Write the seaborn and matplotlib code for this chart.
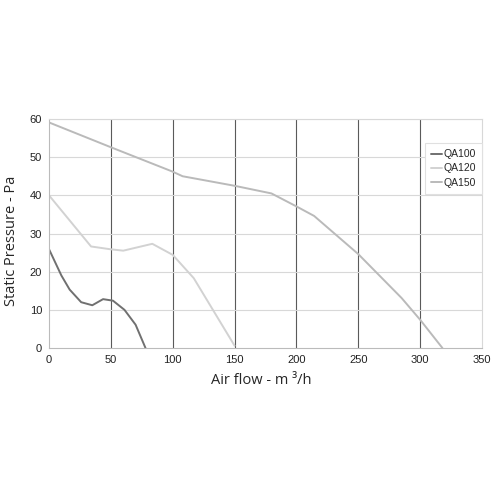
import seaborn as sns
import matplotlib.pyplot as plt
import pandas as pd

# fan curves
qa100_flow = [0, 10, 16.7, 26, 35, 43.7, 51.7, 61, 70, 78]
qa100_pres = [25.9, 19, 15.3, 12, 11.2, 12.8, 12.4, 10, 6.1, 0]

qa120_flow = [0, 34, 49, 60, 83.5, 100, 117, 150]
qa120_pres = [40, 26.6, 25.9, 25.5, 27.3, 24.4, 18.3, 0.6]

qa150_flow = [0, 50, 100, 108, 150, 179.8, 200, 214.3, 250, 285, 300, 318]
qa150_pres = [59.1, 52.6, 46.2, 45, 42.5, 40.5, 37.1, 34.6, 24.6, 13.1, 7.4, 0]

models = ['QA100', 'QA120', 'QA150']
colors = ['#707070', '#d2d2d2', '#bababa']

df = pd.concat([
    pd.DataFrame({'flow': qa100_flow, 'pressure': qa100_pres, 'model': 'QA100'}),
    pd.DataFrame({'flow': qa120_flow, 'pressure': qa120_pres, 'model': 'QA120'}),
    pd.DataFrame({'flow': qa150_flow, 'pressure': qa150_pres, 'model': 'QA150'}),
])

sns.set_style('white')
plt.rcParams['font.family'] = ['Liberation Sans', 'DejaVu Sans']

fig = plt.figure(figsize=(5, 5), dpi=100)
ax = fig.add_axes([0.098, 0.304, 0.866, 0.458])

# grid: dark verticals, light horizontals
for v in range(50, 350, 50):
    ax.axvline(v, color='#5a5a5a', lw=0.8, zorder=0)
for h in range(10, 70, 10):
    ax.axhline(h, color='#d8d8d8', lw=0.8, zorder=0)

sns.lineplot(data=df, x='flow', y='pressure', hue='model', hue_order=models,
             palette=colors, sort=False, lw=1.4, ax=ax)

ax.set_xlim(0, 350)
ax.set_ylim(0, 60)
ax.set_xticks(range(0, 400, 50))
ax.set_yticks(range(0, 70, 10))
ax.tick_params(labelsize=8, length=0, pad=5, colors='#222222')

for s in ['top', 'right']:
    ax.spines[s].set_color('#d8d8d8')
for s in ['left', 'bottom']:
    ax.spines[s].set_color('#bbbbbb')
for s in ax.spines.values():
    s.set_linewidth(0.8)

ax.set_xlabel('Air flow - m \u00b3/h', fontsize=10.5, family=['Open Sans', 'DejaVu Sans'])
ax.set_ylabel('Static Pressure - Pa', fontsize=10.5, family=['Open Sans', 'DejaVu Sans'])
ax.xaxis.set_label_coords(0.49, -0.11)
ax.yaxis.set_label_coords(-0.07, 0.467)

leg = ax.legend(loc='upper right', bbox_to_anchor=(1.0, 0.895), borderaxespad=0,
                fontsize=7.5, handlelength=1.1, handletextpad=0.1, borderpad=0.6,
                labelspacing=0.4, fancybox=False, framealpha=1)
leg.get_frame().set_edgecolor('#e0e0e0')
leg.get_frame().set_linewidth(0.8)
leg.set_title(None)

fig.savefig('out.png', dpi=100)
